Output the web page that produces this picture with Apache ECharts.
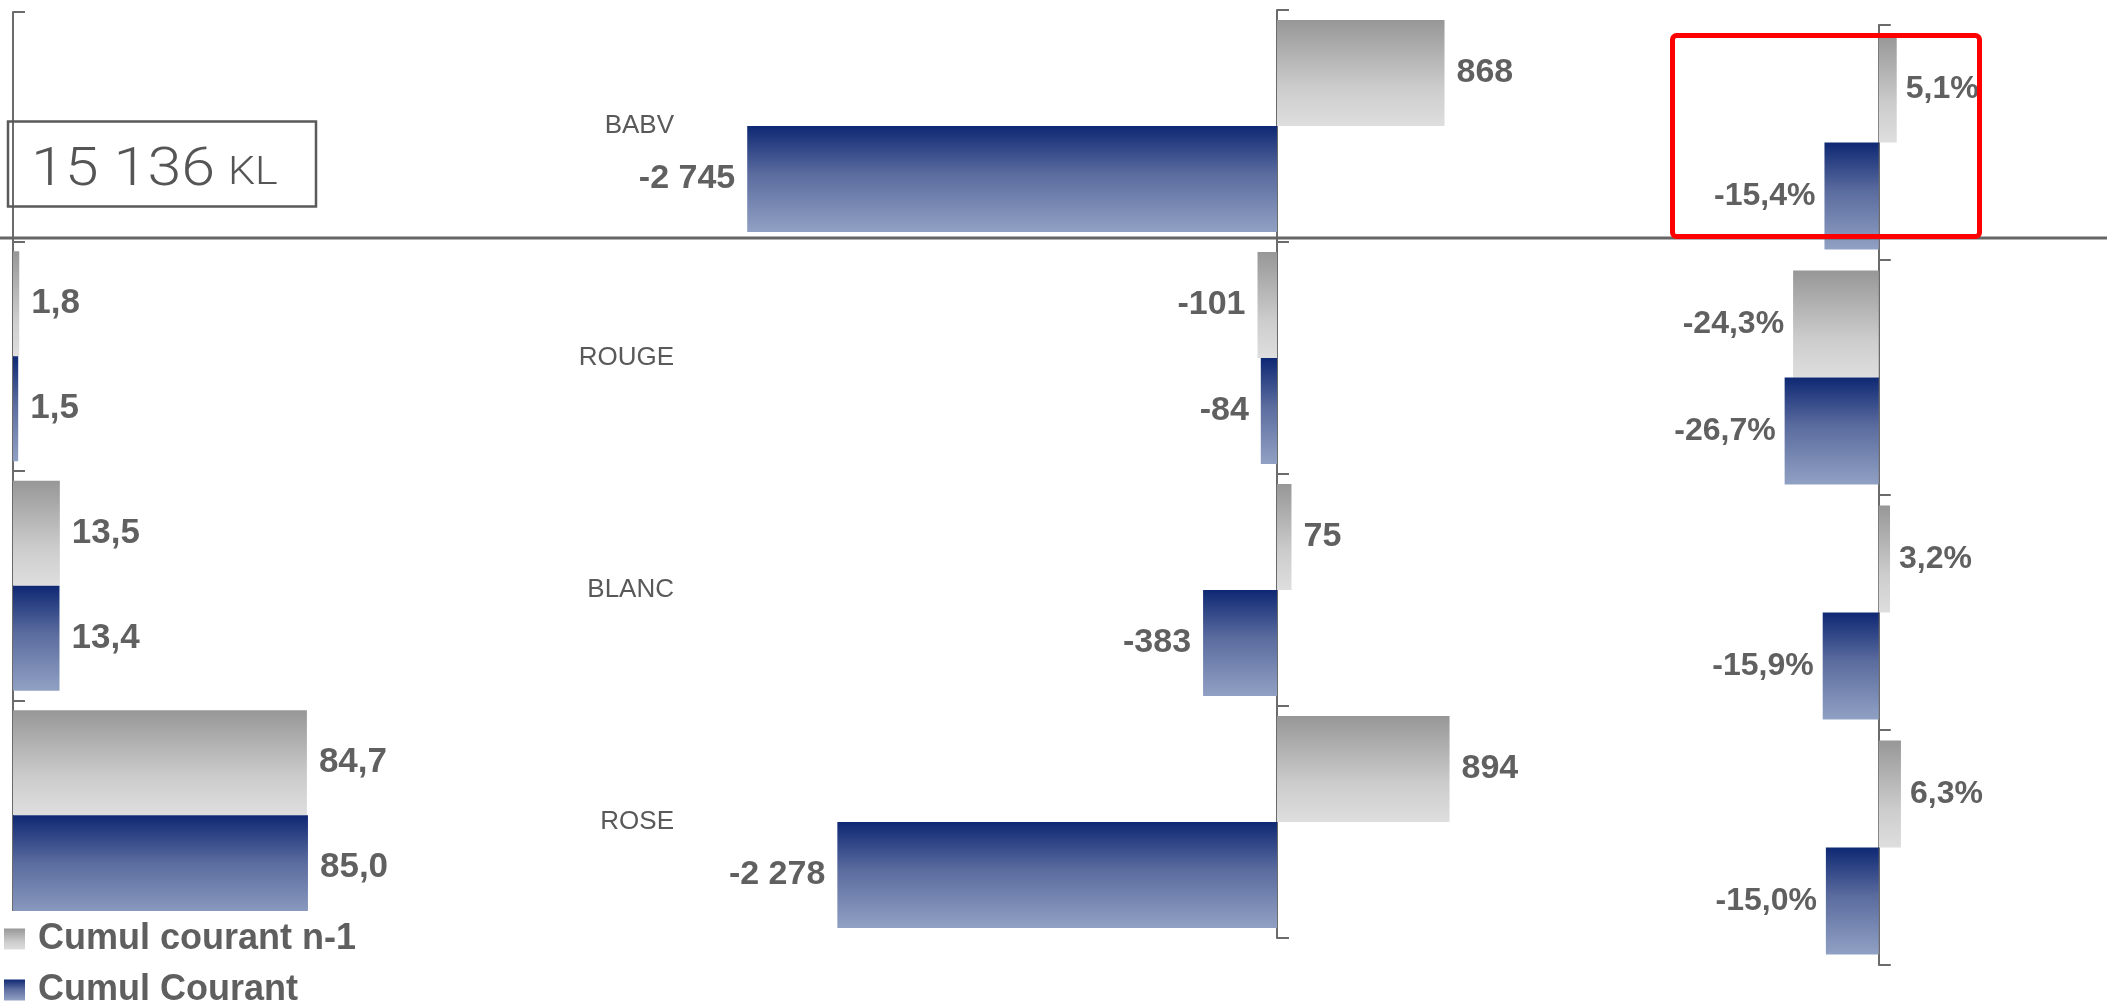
<!DOCTYPE html>
<html>
<head>
<meta charset="utf-8">
<script src="https://cdn.jsdelivr.net/npm/echarts@6/dist/echarts.min.js"></script>
<style>
  html, body { margin: 0; padding: 0; background: #ffffff; }
  #chart { width: 2107px; height: 1003px; }
</style>
</head>
<body>
<div id="chart"></div>
<script>
// Catégories (de haut en bas)
const categories = ['BABV', 'ROUGE', 'BLANC', 'ROSE'];
const seriesNames = ['Cumul courant n-1', 'Cumul Courant'];

// Part de chaque couleur (%)
const sharePrev = [null, 1.8, 13.5, 84.7];
const shareCur = [null, 1.5, 13.4, 85.0];

// Écart en KL
const diffPrev = [868, -101, 75, 894];
const diffCur = [-2745, -84, -383, -2278];

// Écart en %
const pctPrev = [5.1, -24.3, 3.2, 6.3];
const pctCur = [-15.4, -26.7, -15.9, -15.0];

// Volume total
const totalValue = '15 136';
const totalUnit = 'KL';

const FONT = '"Liberation Sans", Arial, Helvetica, sans-serif';
const LABEL_COLOR = '#606060';
const AXIS_COLOR = '#6b6b6b';

const fmtDec = v => v.toFixed(1).replace('.', ',');
const fmtInt = v => (v < 0 ? '-' : '') + Math.abs(Math.round(v)).toString().replace(/\B(?=(\d{3})+(?!\d))/g, ' ');
const fmtPct = v => fmtDec(v) + '%';

const grayGrad = () => new echarts.graphic.LinearGradient(0, 0, 0, 1, [
  { offset: 0, color: '#979797' },
  { offset: 0.65, color: '#cdcdcd' },
  { offset: 1, color: '#dedede' }
]);
const blueGrad = () => new echarts.graphic.LinearGradient(0, 0, 0, 1, [
  { offset: 0, color: '#0e2873' },
  { offset: 0.45, color: '#5a6b9e' },
  { offset: 1, color: '#91a1c4' }
]);

// Trois panneaux : part, écart KL, écart %
const panels = [
  { left: 13, top: 12, width: 347, height: 918, min: 0, max: 100, gap: '8.5%', fmt: fmtDec, size: 35, dist: 12, prev: sharePrev, cur: shareCur },
  { left: 698, top: 10, width: 772, height: 928, min: -3000, max: 1000, gap: '8.6%', fmt: fmtInt, size: 34, dist: 12, prev: diffPrev, cur: diffCur },
  { left: 1773, top: 25, width: 141, height: 940, min: -30, max: 10, gap: '8.9%', fmt: fmtPct, size: 32, dist: 9, prev: pctPrev, cur: pctCur }
];

const toItems = values => values.map(v => v == null ? '-' : { value: v, label: { position: v < 0 ? 'left' : 'right' } });

const grids = [], xAxes = [], yAxes = [], series = [];
panels.forEach((p, i) => {
  grids.push({ left: p.left, top: p.top, width: p.width, height: p.height, containLabel: false });
  xAxes.push({ type: 'value', gridIndex: i, min: p.min, max: p.max, show: false });
  yAxes.push({
    type: 'category', gridIndex: i, data: categories, inverse: true,
    axisLine: { show: true, lineStyle: { color: AXIS_COLOR, width: 2 } },
    axisTick: { show: true, inside: true, length: 12, lineStyle: { color: AXIS_COLOR, width: 2 } },
    axisLabel: i === 1
      ? { show: true, margin: 24, fontSize: 26, color: '#595959', fontFamily: FONT }
      : { show: false },
    splitLine: { show: false }
  });
  [[seriesNames[0], p.prev, grayGrad()], [seriesNames[1], p.cur, blueGrad()]].forEach(([name, vals, color]) => {
    series.push({
      type: 'bar', name: name, xAxisIndex: i, yAxisIndex: i,
      barGap: '0%', barCategoryGap: p.gap,
      itemStyle: { color: color },
      label: {
        show: true, formatter: d => p.fmt(d.value),
        fontSize: p.size, fontWeight: 'bold', color: LABEL_COLOR, fontFamily: FONT, distance: p.dist
      },
      emphasis: { disabled: true },
      data: toItems(vals)
    });
  });
});

// Légende : une entrée par ligne, fond blanc
const legendBase = {
  orient: 'vertical', left: 4, itemWidth: 21, itemHeight: 21, icon: 'rect',
  backgroundColor: '#ffffff', selectedMode: false,
  formatter: name => '{t|' + name + '}',
  textStyle: {
    rich: { t: { fontSize: 36, lineHeight: 35, fontWeight: 'bold', color: '#5f5f5f', fontFamily: FONT, padding: [0, 0, 0, 8] } }
  }
};
const legends = [
  Object.assign({}, legendBase, { data: [seriesNames[0]], top: 911, padding: [10, 10, 2, 0] }),
  Object.assign({}, legendBase, { data: [seriesNames[1]], top: 972, padding: [0, 10, 0, 0] })
];

const chart = echarts.init(document.getElementById('chart'), null, { renderer: 'canvas' });
chart.setOption({
  backgroundColor: '#ffffff',
  animation: false,
  grid: grids,
  xAxis: xAxes,
  yAxis: yAxes,
  series: series,
  legend: legends,
  graphic: [
    { type: 'line', z: 50, shape: { x1: 0, y1: 238, x2: 2107, y2: 238 }, style: { stroke: '#666666', lineWidth: 3 } },
    { type: 'rect', z: 60, shape: { x: 8, y: 121.5, width: 308, height: 85 }, style: { fill: 'transparent', stroke: '#5a5a5a', lineWidth: 2.5 } },
    { type: 'text', z: 61, x: 31, y: 171, scaleX: 1.13,
      style: { text: totalValue, fontSize: 54, fontWeight: 300, fontFamily: 'Roboto, "Open Sans", sans-serif', fill: '#555555', verticalAlign: 'middle', align: 'left' } },
    { type: 'text', z: 61, x: 228, y: 174, scaleX: 1.13,
      style: { text: totalUnit, fontSize: 38, fontWeight: 300, fontFamily: 'Roboto, "Open Sans", sans-serif', fill: '#555555', verticalAlign: 'middle', align: 'left' } },
    { type: 'rect', z: 100, shape: { x: 1672.5, y: 35.5, width: 307, height: 201, r: 4 }, style: { fill: 'transparent', stroke: '#ff0000', lineWidth: 5 } }
  ]
});
</script>
</body>
</html>
